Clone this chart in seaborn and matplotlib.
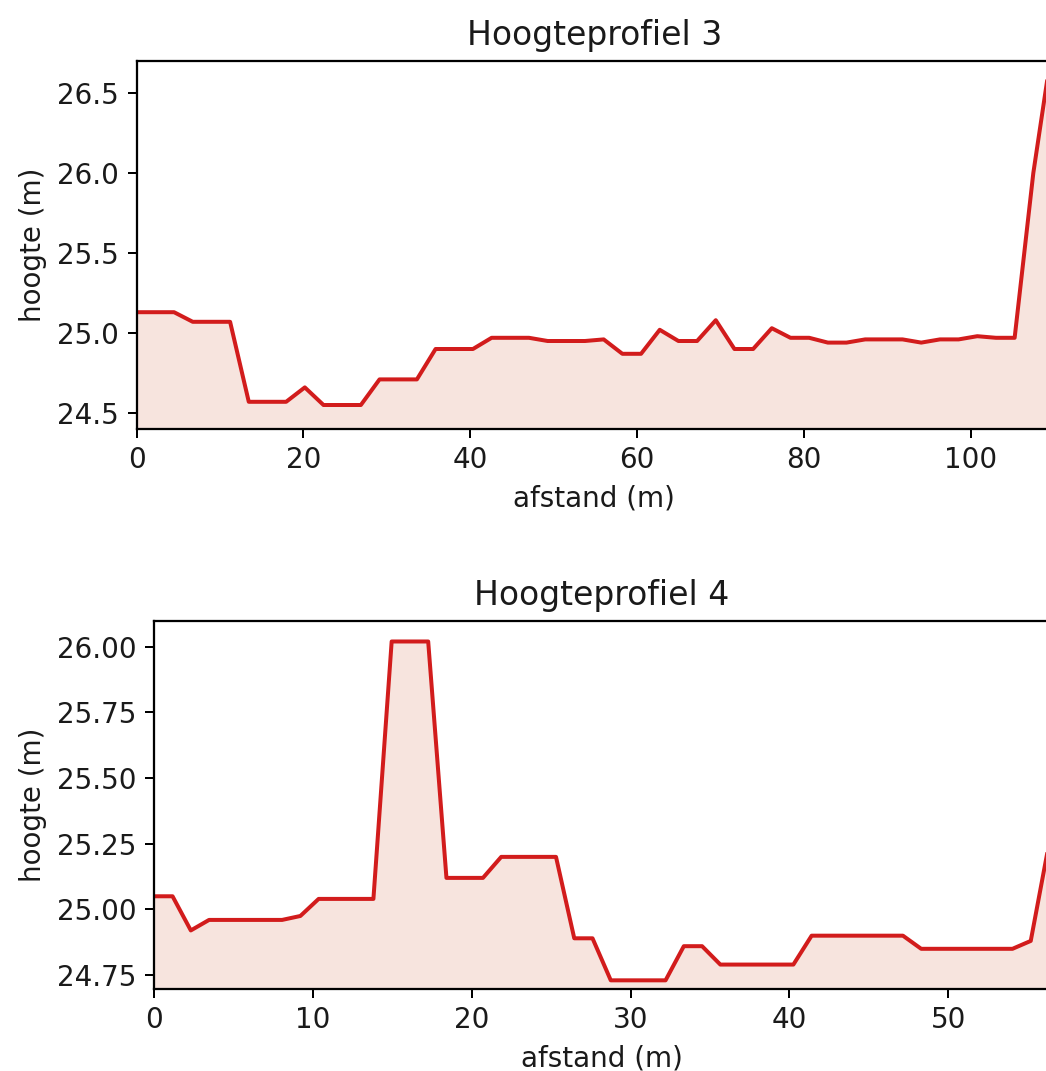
import matplotlib
matplotlib.use("Agg")
import matplotlib.pyplot as plt
import seaborn as sns
import numpy as np

# ---------------- data ----------------
afstand_3 = [0.00, 2.24, 4.48, 6.72, 8.96, 11.20, 13.44, 15.68, 17.92, 20.16,
             22.40, 24.64, 26.88, 29.12, 31.36, 33.60, 35.84, 38.08, 40.32, 42.56,
             44.80, 47.04, 49.28, 51.52, 53.76, 56.00, 58.24, 60.48, 62.72, 64.96,
             67.20, 69.44, 71.68, 73.92, 76.16, 78.40, 80.64, 82.88, 85.12, 87.36,
             89.60, 91.84, 94.08, 96.32, 98.56, 100.80, 103.04, 105.28, 107.52, 109.76]
hoogte_3 = [25.13, 25.13, 25.13, 25.07, 25.07, 25.07, 24.57, 24.57, 24.57, 24.66,
            24.55, 24.55, 24.55, 24.71, 24.71, 24.71, 24.90, 24.90, 24.90, 24.97,
            24.97, 24.97, 24.95, 24.95, 24.95, 24.96, 24.87, 24.87, 25.02, 24.95,
            24.95, 25.08, 24.90, 24.90, 25.03, 24.97, 24.97, 24.94, 24.94, 24.96,
            24.96, 24.96, 24.94, 24.96, 24.96, 24.98, 24.97, 24.97, 26.00, 26.78]

afstand_4 = [0.00, 1.15, 2.30, 3.45, 4.60, 5.75, 6.90, 8.05, 9.20, 10.35,
             11.50, 12.65, 13.80, 14.95, 16.10, 17.25, 18.40, 19.55, 20.70, 21.85,
             23.00, 24.15, 25.30, 26.45, 27.60, 28.75, 29.90, 31.05, 32.20, 33.35,
             34.50, 35.65, 36.80, 37.95, 39.10, 40.25, 41.40, 42.55, 43.70, 44.85,
             46.00, 47.15, 48.30, 49.45, 50.60, 51.75, 52.90, 54.05, 55.20, 56.35]
hoogte_4 = [25.05, 25.05, 24.92, 24.96, 24.96, 24.96, 24.96, 24.96, 24.975, 25.04,
            25.04, 25.04, 25.04, 26.02, 26.02, 26.02, 25.12, 25.12, 25.12, 25.20,
            25.20, 25.20, 25.20, 24.89, 24.89, 24.73, 24.73, 24.73, 24.73, 24.86,
            24.86, 24.79, 24.79, 24.79, 24.79, 24.79, 24.90, 24.90, 24.90, 24.90,
            24.90, 24.90, 24.85, 24.85, 24.85, 24.85, 24.85, 24.85, 24.88, 25.25]

titels = ["Hoogteprofiel 3", "Hoogteprofiel 4"]
xlabel = "afstand (m)"
ylabel = "hoogte (m)"

# ---------------- styling ----------------
LINE = "#d21c1c"
FILL = "#f7e4de"
TEXT = "#1a1a1a"
W, H, DPI = 1046, 1071, 180

plt.rcParams.update({
    "font.family": ["DejaVu Sans"],
    "xtick.labelsize": 11.1,
    "ytick.labelsize": 11.1,
    "axes.labelsize": 11.1,
    "axes.titlesize": 13.2,
    "axes.linewidth": 0.9,
    "text.color": TEXT,
    "axes.labelcolor": TEXT,
    "xtick.labelcolor": TEXT,
    "ytick.labelcolor": TEXT,
})

fig = plt.figure(figsize=(W / DPI, H / DPI), dpi=DPI)

def px_axes(left, right, top, bottom):
    return fig.add_axes([left / W, 1 - bottom / H, (right - left) / W, (bottom - top) / H])

ax1 = px_axes(136.7, 1052, 61, 429)
ax2 = px_axes(154.3, 1049, 621, 989)

panels = [
    (ax1, afstand_3, hoogte_3, titels[0], (24.40, 26.70)),
    (ax2, afstand_4, hoogte_4, titels[1], (24.697, 26.098)),
]

for ax, x, y, titel, ylim in panels:
    ax.fill_between(x, y, ylim[0], color=FILL, linewidth=0)
    sns.lineplot(x=x, y=y, ax=ax, color=LINE, linewidth=1.6, sort=False)
    ax.set_xlim(x[0], x[-1])
    ax.set_ylim(*ylim)
    ax.set_title(titel, pad=6.5)
    ax.set_xlabel(xlabel)
    ax.set_ylabel(ylabel)

fig.savefig("out.png", dpi=DPI)
